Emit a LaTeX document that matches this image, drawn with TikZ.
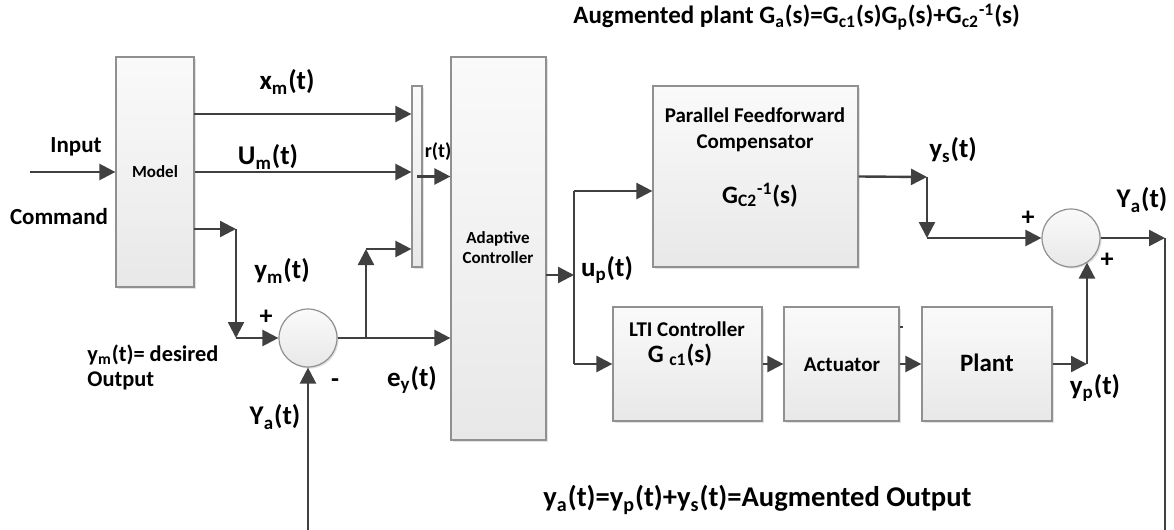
\documentclass[tikz,border=0pt]{standalone}
\usepackage{fontspec}
\setmainfont{Carlito}
\usetikzlibrary{arrows.meta,shadows,calc}
\definecolor{ln}{HTML}{404040}
\definecolor{bx}{HTML}{909090}
\newcommand{\sbs}[1]{\textsubscript{#1}}
\newcommand{\sps}[1]{\textsuperscript{#1}}
\begin{document}
\begin{tikzpicture}[x=0.5pt,y=-0.5pt,
  blk/.style={draw=bx, line width=0.6pt, top color=black!2, bottom color=black!9,
    inner sep=0pt, drop shadow={shadow xshift=0.8pt,shadow yshift=-0.8pt,opacity=0.22}},
  sumc/.style={circle, draw=bx, line width=0.6pt, top color=black!2, bottom color=black!9,
    minimum size=29pt, inner sep=0pt, drop shadow={shadow xshift=0.8pt,shadow yshift=-0.8pt,opacity=0.22}},
  arr/.style={draw=ln, line width=1.2pt, -{Triangle[length=8pt,width=8pt]}},
  wire/.style={draw=ln, line width=1.2pt},
  sig/.style={font=\bfseries\fontsize{13.5}{15}\selectfont, inner sep=0pt},
  mid/.style={font=\bfseries\fontsize{11.5}{13}\selectfont, inner sep=0pt},
  txt/.style={font=\bfseries\fontsize{10.5}{12.5}\selectfont, inner sep=0pt, align=center},
  sml/.style={font=\bfseries\fontsize{8.5}{10}\selectfont, inner sep=0pt, align=center},
  pm/.style={font=\bfseries\fontsize{13}{14}\selectfont, inner sep=0pt}]
\useasboundingbox (0,0) rectangle (1174,530);

% blocks
\node[blk, minimum width=39pt, minimum height=115pt] (model) at (155,172) {};
\node[blk, minimum width=5pt, minimum height=90.5pt] (mux) at (417,176.5) {};
\node[blk, minimum width=47.5pt, minimum height=191.5pt] (ac) at (498.5,248.5) {};
\node[blk, minimum width=102.5pt, minimum height=90.5pt] (pfc) at (755.5,176.5) {};
\node[blk, minimum width=74.5pt, minimum height=57pt] (lti) at (687.5,364) {};
\node[blk, minimum width=57.5pt, minimum height=57pt] (act) at (841.5,364) {};
\node[blk, minimum width=65pt, minimum height=57pt] (plant) at (987,364) {};
\node[sumc] (sum1) at (308,338) {};
\node[sumc] (sum2) at (1071,238) {};

% block texts
\node[sml] (tmodel) at (155,172) {Model};
\node[sml] (tac) at (498,248) {Adaptive\\Controller};
\node[txt, font=\bfseries\fontsize{10.5}{13}\selectfont] (tpfc) at (755,130) {Parallel Feedforward\\Compensator};
\node[font=\bfseries\fontsize{12.5}{14}\selectfont, inner sep=0pt] (tgc2) at (760,195) {G\sbs{C2}\sps{-1}(s)};
\node[txt] (tlti) at (687,329) {LTI Controller};
\node[font=\bfseries\fontsize{12.5}{14}\selectfont, inner sep=0pt] (tgc1) at (680,355) {G \sbs{c1}(s)};
\node[txt] (tact) at (842,365) {Actuator};
\node[font=\bfseries\fontsize{12.5}{14}\selectfont, inner sep=0pt] (tplant) at (987,363) {Plant};
\draw[draw=ln, line width=0.8pt] (900,327) -- (903,327);

% coordinates
\coordinate (in) at (30,172);
\coordinate (xm) at (194,114);
\coordinate (ymA) at (194,229);
\coordinate (ymB) at (236,229);
\coordinate (ymC) at (236,338);
\coordinate (brA) at (366,338);
\coordinate (brB) at (366,249);
\coordinate (fb) at (308,530);
\coordinate (acout) at (546,275);
\coordinate (upA) at (574,275);
\coordinate (upT) at (574,191);
\coordinate (upB) at (574,364);
\coordinate (ysA) at (927,177);
\coordinate (ysB) at (927,238);
\coordinate (yp) at (1087,364);
\coordinate (yaA) at (1165,238);
\coordinate (yaB) at (1165,530);

% connectors
\draw[arr] (in) -- (model.west);
\draw[arr] (xm) -- (xm -| mux.west);
\draw[arr] (model.east) -- (model.east -| mux.west);
\draw[arr] (ymA) -- (ymB);
\draw[arr] (ymB) -- (ymC);
\draw[arr] (ymC) -- (sum1.west);
\draw[arr] (sum1.east) -- (sum1.east -| ac.west);
\draw[arr] (brA) -- (brB);
\draw[arr] (brB) -- (brB -| mux.west);
\draw[arr] (mux.center) -- (mux.center -| ac.west);
\draw[arr] (fb) -- (sum1.south);
\draw[arr] (acout) -- (upA);
\draw[wire] (upT) -- (upB);
\draw[arr] (upT) -- (upT -| pfc.west);
\draw[arr] (upB) -- (lti.west);
\draw[arr] (lti.east) -- (act.west);
\draw[arr] (act.east) -- (plant.west);
\draw[arr] (plant.east) -- (yp);
\draw[arr] (yp) -- (yp |- sum2.-56);
\draw[arr] (pfc.east) -- (ysA);
\draw[arr] (ysA) -- (ysB);
\draw[arr] (ysB) -- (sum2.west);
\draw[arr] (sum2.east) -- (yaA);
\draw[wire] (yaA) -- (yaB);

% labels
\node[mid] (linput) at (76,147) {Input};
\node[mid] (lcmd) at (59,217) {Command};
\node[sig] (lxm) at (287,82) {x\sbs{m}(t)};
\node[sig] (lum) at (268,157) {U\sbs{m}(t)};
\node[font=\bfseries\fontsize{10}{12}\selectfont, inner sep=0pt] (lr) at (438,152) {r(t)};
\node[sig] (lym) at (282,271) {y\sbs{m}(t)};
\node[pm] (lp1) at (266,317) {+};
\node[txt, align=left, anchor=west, font=\bfseries\fontsize{11.2}{12.5}\selectfont] (ldes) at (87,367) {y\sbs{m}(t)= desired\\Output};
\node[pm] (lm1) at (335,383) {-};
\node[sig] (ley) at (412,380) {e\sbs{y}(t)};
\node[sig] (lya1) at (275,417) {Y\sbs{a}(t)};
\node[sig] (lup) at (607,270) {u\sbs{p}(t)};
\node[sig] (lys) at (953,150) {y\sbs{s}(t)};
\node[sig] (lya2) at (1142,200) {Y\sbs{a}(t)};
\node[pm] (lp2) at (1028,218) {+};
\node[pm] (lp3) at (1107,260) {+};
\node[sig] (lyp) at (1095,388) {y\sbs{p}(t)};
\node[font=\bfseries\fontsize{12.5}{14}\selectfont, inner sep=0pt, anchor=west] (laug) at (573,17) {Augmented plant G\sbs{a}(s)=G\sbs{c1}(s)G\sbs{p}(s)+G\sbs{c2}\sps{-1}(s)};
\node[font=\bfseries\fontsize{14.3}{16}\selectfont, inner sep=0pt, anchor=west] (lout) at (543,500) {y\sbs{a}(t)=y\sbs{p}(t)+y\sbs{s}(t)=Augmented Output};
\end{tikzpicture}
\end{document}
